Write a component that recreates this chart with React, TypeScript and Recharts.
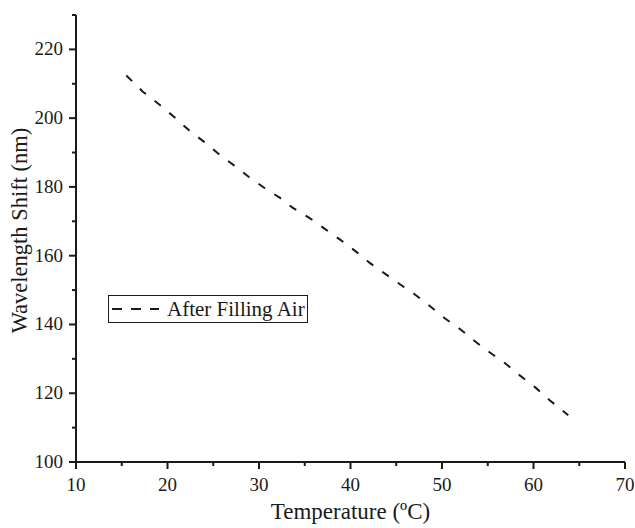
import { Line, LineChart, XAxis, YAxis, Label } from "recharts";

const temperature = [
  15.5, 17.3, 19.0, 20.7, 22.3, 24.0, 25.6, 27.3, 28.9, 30.6, 32.3, 33.7, 35.5, 37.2, 38.9,
  40.5, 42.1, 43.8, 45.4, 47.0, 48.7, 50.3, 52.0, 53.6, 55.2, 56.9, 58.5, 60.2, 61.8, 63.8,
];
const shift = [
  212.4, 207.7, 204.2, 200.4, 196.6, 193.1, 189.6, 186.2, 182.9, 179.7, 176.8, 173.9, 171.0,
  167.8, 164.6, 161.4, 157.9, 154.7, 151.7, 148.8, 145.3, 141.8, 138.6, 135.1, 131.9, 128.7,
  125.2, 121.7, 117.9, 113.6,
];
const xTicks = [10, 15, 20, 25, 30, 35, 40, 45, 50, 55, 60, 65, 70];
const yTicks = [100, 110, 120, 130, 140, 150, 160, 170, 180, 190, 200, 210, 220, 230];
const seriesName = "After Filling Air";

const data = temperature.map((t, i) => ({ t, shift: shift[i] }));

const FONT = "'Liberation Serif', 'DejaVu Serif', serif";
const INK = "#1a1a1a";

function XTick(props: any) {
  const { x, y, payload } = props;
  const major = payload.value % 10 === 0;
  return (
    <g>
      <line x1={x} x2={x} y1={y} y2={y + (major ? 7 : 4)} stroke={INK} strokeWidth={2} />
      {major && (
        <text x={x} y={y + 29} textAnchor="middle" fontFamily={FONT} fontSize={19} fill={INK}>
          {payload.value}
        </text>
      )}
    </g>
  );
}

function YTick(props: any) {
  const { x, y, payload } = props;
  const major = payload.value % 20 === 0 && payload.value < 230;
  return (
    <g>
      <line x1={x} x2={x - (major ? 7 : 4)} y1={y} y2={y} stroke={INK} strokeWidth={2} />
      {major && (
        <text x={x - 13} y={y + 6} textAnchor="end" fontFamily={FONT} fontSize={19} fill={INK}>
          {payload.value}
        </text>
      )}
    </g>
  );
}

// rotated y title, centred on the plot height
function YTitle(props: any) {
  const { viewBox } = props;
  const cx = viewBox.x + 19;
  const cy = viewBox.y + viewBox.height / 2 - 8;
  return (
    <text
      x={cx}
      y={cy}
      transform={`rotate(-90 ${cx} ${cy})`}
      textAnchor="middle"
      dominantBaseline="central"
      fontFamily={FONT}
      fontSize={22.5}
      fill={INK}
    >
      Wavelength Shift (nm)
    </text>
  );
}

function LegendBox() {
  return (
    <div
      style={{
        position: "absolute",
        left: 108,
        top: 295,
        display: "flex",
        alignItems: "center",
        border: `1px solid ${INK}`,
        padding: "1px 2px 1px 2px",
        fontFamily: FONT,
        fontSize: 21,
        lineHeight: "24px",
        color: INK,
        background: "#fff",
      }}
    >
      <svg width={48} height={10} style={{ marginRight: 8 }}>
        <line x1={1} x2={48} y1={5} y2={5} stroke={INK} strokeWidth={2} strokeDasharray="10 9" />
      </svg>
      {seriesName}
    </div>
  );
}

export default function App() {
  return (
    <div style={{ position: "absolute", left: 0, top: 0, width: 635, height: 528, background: "#fff" }}>
      <LineChart width={635} height={528} data={data} margin={{ top: 15, right: 10, bottom: 0, left: 0 }}>
        <XAxis
          dataKey="t"
          type="number"
          domain={[10, 70]}
          ticks={xTicks}
          interval={0}
          height={66}
          tickSize={0}
          tickMargin={0}
          tickLine={false}
          tick={<XTick />}
          axisLine={{ stroke: INK, strokeWidth: 2 }}
        >
          <Label
            value="Temperature (ºC)"
            position="insideBottom"
            offset={9}
            style={{ fontFamily: FONT, fontSize: 23, fill: INK }}
          />
        </XAxis>
        <YAxis
          type="number"
          domain={[100, 230]}
          ticks={yTicks}
          interval={0}
          width={76}
          tickSize={0}
          tickMargin={0}
          tickLine={false}
          tick={<YTick />}
          axisLine={{ stroke: INK, strokeWidth: 2 }}
        >
          <Label content={<YTitle />} />
        </YAxis>
        <Line
          type="linear"
          dataKey="shift"
          name={seriesName}
          stroke={INK}
          strokeWidth={2}
          strokeDasharray="8 11"
          dot={false}
          isAnimationActive={false}
        />
      </LineChart>
      <LegendBox />
    </div>
  );
}
